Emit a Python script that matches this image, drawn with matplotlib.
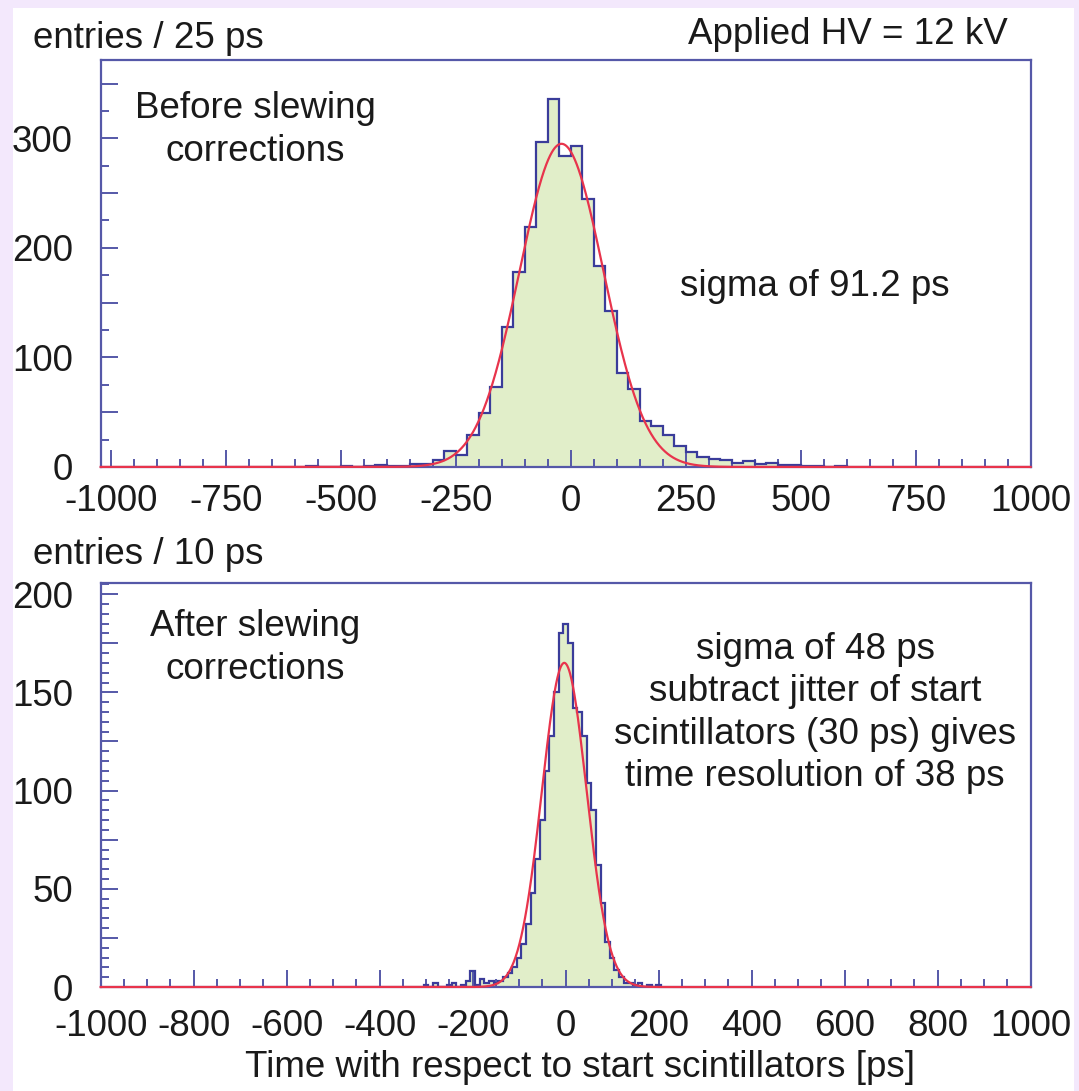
import numpy as np
import matplotlib.pyplot as plt
from matplotlib.ticker import MultipleLocator, FuncFormatter
from matplotlib.patches import Rectangle

plt.rcParams['font.family'] = ['Liberation Sans', 'DejaVu Sans']
plt.rcParams['axes.unicode_minus'] = False

# ---- data ----
# top: before slewing corrections, 25 ps bins starting at -575 ps
top_start = -575
top_width = 25
top_counts = [1, 0, 0, 1, 0, 1, 2, 1,            # -575 .. -400
              1, 3, 3, 6, 15, 11, 29.5, 49,        # -375 .. -200
              73, 128, 178, 219, 297, 336, 284,    # -175 .. -25
              293, 245, 183, 142, 86, 71, 42, 37,  # 0 .. 175
              29.5, 19, 14, 9, 7, 6, 4, 5,         # 200 .. 375
              3, 4, 2, 2, 1, 1, 0, 1]              # 400 .. 575
top_fit = dict(amp=295, mean=-20, sigma=91.2)

# bottom: after slewing corrections, 10 ps bins (bin centre -> entries)
bot_width = 10
bot_centres = [-300, -290, -280, -270, -260, -250, -240, -230, -220, -210,
               -200, -190, -180, -170, -160, -150, -140, -130, -120, -110,
               -100, -90, -80, -70, -60, -50, -40, -30, -20, -10,
               0, 10, 20, 30, 40, 50, 60, 70, 80, 90,
               100, 110, 120, 130, 140, 150, 160, 170, 180, 190, 200]
bot_counts = [1, 0, 2, 0, 0, 1, 2, 0, 1, 3,
              8, 1, 4, 2, 3, 2, 3, 5, 7, 10,
              15, 22, 32, 48, 65, 85, 110, 128, 150, 180,
              185, 175, 142, 140, 128, 104, 90, 62, 43, 23,
              15, 8.5, 5, 2, 2, 1, 2, 0, 1, 0, 1]
bot_fit = dict(amp=165, mean=-3, sigma=48)

top_xticks = [-1000, -750, -500, -250, 0, 250, 500, 750, 1000]
bot_xticks = [-1000, -800, -600, -400, -200, 0, 200, 400, 600, 800, 1000]

# ---- style ----
fill_c = '#e1eec9'
edge_c = '#3a3c9a'
frame_c = '#5558a8'
fit_c = '#e8344c'
fs = 26.5
tc = '#1a1a1a'

fig = plt.figure(figsize=(10.79, 10.91), dpi=100)
fig.patch.set_facecolor('#f3e8fc')
fig.patches.append(Rectangle((13 / 1079, 0), (1074 - 13) / 1079, 1 - 8 / 1091,
                             transform=fig.transFigure, facecolor='white',
                             edgecolor='none', zorder=-10))

ax1 = fig.add_axes([0.0933, 0.572, 0.8619, 0.373])
ax2 = fig.add_axes([0.0933, 0.0953, 0.8619, 0.3706])


def draw(ax, edges, counts, fit, xlim, ylim):
    counts = np.array(counts, dtype=float)
    ax.stairs(counts, edges, fill=True, color=fill_c, zorder=1)
    ax.stairs(counts, edges, color=edge_c, lw=1.6, zorder=2)
    xs = np.linspace(xlim[0], xlim[1], 2000)
    ys = fit['amp'] * np.exp(-0.5 * ((xs - fit['mean']) / fit['sigma']) ** 2)
    ax.plot(xs, ys, color=fit_c, lw=1.6, zorder=3, clip_on=False)
    ax.set_xlim(*xlim)
    ax.set_ylim(*ylim)
    for s in ax.spines.values():
        s.set_color(frame_c)
        s.set_linewidth(1.6)
    ax.tick_params(which='both', direction='in', color=frame_c, width=1.4,
                   top=False, right=False, labelsize=fs, labelcolor=tc)
    ax.tick_params(which='major', length=12)
    ax.tick_params(which='minor', length=6)
    ax.tick_params(axis='y', pad=20)


top_edges = top_start + top_width * np.arange(len(top_counts) + 1)
draw(ax1, top_edges, top_counts, top_fit, (-1022, 1000), (0, 371.5))
ax1.set_xticks(top_xticks)
ax1.xaxis.set_minor_locator(MultipleLocator(50))
ax1.yaxis.set_major_locator(MultipleLocator(50))
ax1.yaxis.set_minor_locator(MultipleLocator(25))
ax1.yaxis.set_major_formatter(FuncFormatter(lambda v, p: '%d' % v if v % 100 == 0 else ''))
ax1.tick_params(axis='x', pad=12)

bot_edges = np.append(np.array(bot_centres) - bot_width / 2, bot_centres[-1] + bot_width / 2)
draw(ax2, bot_edges, bot_counts, bot_fit, (-1000, 1000), (0, 205.8))
ax2.set_xticks(bot_xticks)
ax2.xaxis.set_minor_locator(MultipleLocator(50))
ax2.yaxis.set_major_locator(MultipleLocator(25))
ax2.yaxis.set_minor_locator(MultipleLocator(5))
ax2.yaxis.set_major_formatter(FuncFormatter(lambda v, p: '%d' % v if v % 50 == 0 else ''))
ax2.tick_params(axis='x', pad=16)
ax2.set_xlabel('Time with respect to start scintillators [ps]', fontsize=fs, color=tc)
ax2.xaxis.label.set_va('center')
ax2.xaxis.set_label_coords(0.515, -0.2)

fig.text(33 / 1079, 1 - 38 / 1091, 'entries / 25 ps', fontsize=fs, color=tc, va='center')
fig.text(1008 / 1079, 1 - 35 / 1091, 'Applied HV = 12 kV', fontsize=fs, color=tc,
         va='center', ha='right')
fig.text(255 / 1079, 1 - 130 / 1091, 'Before slewing\ncorrections', fontsize=fs,
         color=tc, ha='center', va='center', linespacing=1.28)
fig.text(815 / 1079, 1 - 286 / 1091, 'sigma of 91.2 ps', fontsize=fs, color=tc,
         ha='center', va='center')
fig.text(33 / 1079, 1 - 555 / 1091, 'entries / 10 ps', fontsize=fs, color=tc, va='center')
fig.text(255 / 1079, 1 - 648 / 1091, 'After slewing\ncorrections', fontsize=fs,
         color=tc, ha='center', va='center', linespacing=1.28)
fig.text(815 / 1079, 1 - 713 / 1091,
         'sigma of 48 ps\nsubtract jitter of start\nscintillators (30 ps) gives\ntime resolution of 38 ps',
         fontsize=fs, color=tc, ha='center', va='center', linespacing=1.27)

fig.savefig('out.png', dpi=100, facecolor=fig.get_facecolor())
